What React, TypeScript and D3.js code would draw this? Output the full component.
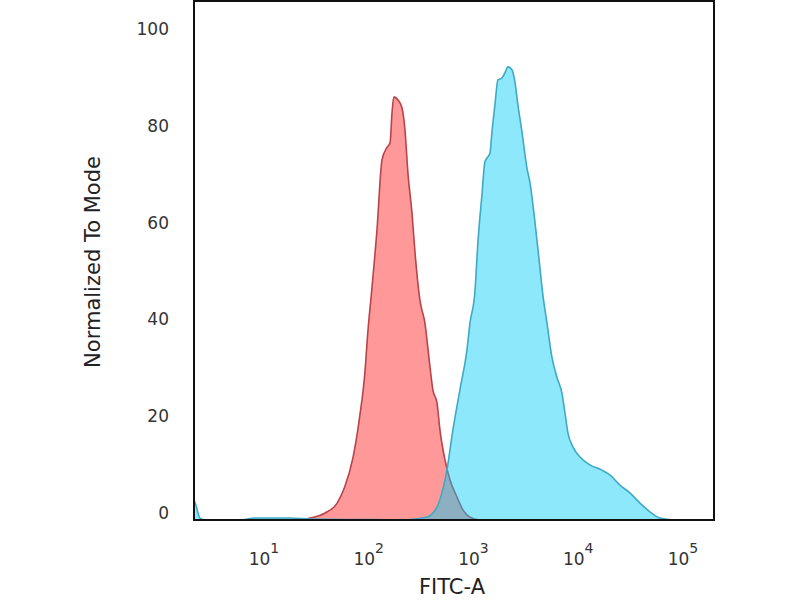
import React, { useEffect, useRef } from "react";
import * as d3 from "d3";

// isotype control (red) histogram
const isoFitc = [22, 27.5, 38, 50, 59, 71, 82, 92, 98, 107, 120, 134, 149, 160, 167, 174, 190, 207, 222, 237, 259, 277, 308, 344, 385, 410, 449, 479, 535, 597, 695, 794, 927, 1153];
const isoPct = [0, 0.4, 1.4, 3.5, 6.8, 13.0, 21.3, 30.4, 38.6, 47.5, 59.9, 74.4, 76.9, 77.9, 84.1, 87.4, 86.8, 85.3, 80.6, 71.7, 63.4, 55.2, 45.5, 40.7, 31.6, 26.9, 24.2, 18.6, 12.4, 8.3, 4.8, 2.1, 0.6, 0];

// stained sample (blue) histogram
const stainFitc = [2.15, 2.24, 2.45, 2.74, 5.9, 8.2, 17.7, 27.5, 60, 120, 199, 275, 360, 449, 558, 637, 743, 867, 927, 1033, 1104, 1205, 1288, 1439, 1503, 1603, 1714, 1871, 2000, 2133, 2333, 2489, 2661, 2904, 3243, 3459, 3864, 4315, 4603, 5035, 5610, 6266, 6998, 7482, 7980, 8913, 10400, 12940, 16870, 20090, 25060, 31190, 38900, 48420, 60260, 80350];
const stainPct = [4.1, 3.1, 0.4, 0, 0, 0.4, 0.4, 0.2, 0.1, 0.1, 0, 0.2, 0.6, 2.7, 10.3, 18.6, 26.9, 35.1, 40.7, 47.1, 57.4, 67.1, 74.0, 75.8, 80.2, 85.7, 90.9, 91.3, 92.4, 93.6, 93.0, 90.5, 85.7, 80.2, 72.7, 69.8, 61.6, 52.1, 46.5, 40.7, 33.7, 29.5, 26.2, 22.1, 18.0, 15.1, 13.0, 11.4, 10.3, 9.3, 7.2, 5.6, 3.5, 1.7, 0.4, 0];

const yTicks = [0, 20, 40, 60, 80, 100];
const xTickExps = [1, 2, 3, 4, 5];

export default function App() {
  const ref = useRef<SVGSVGElement>(null);

  useEffect(() => {
    const svg = d3.select(ref.current);
    svg.selectAll("*").remove();

    const left = 194, right = 714, top = 1, bottom = 520;

    const x = d3.scaleLog().domain([2.15, 198000]).range([left, right]);
    const y = d3.scaleLinear().domain([0, 107.2]).range([bottom, top]);

    svg.append("defs").append("clipPath").attr("id", "plotclip")
      .append("rect")
      .attr("x", left).attr("y", top)
      .attr("width", right - left).attr("height", bottom - top);

    const drawHist = (fitc: number[], pct: number[], fill: string, op: number, stroke: string) => {
      const pts: [number, number][] = fitc.map((f, i) => [x(f), y(pct[i])]);
      const a = d3.area<[number, number]>()
        .x(d => d[0]).y0(y(0)).y1(d => d[1])
        .curve(d3.curveMonotoneX);
      const l = d3.line<[number, number]>()
        .x(d => d[0]).y(d => d[1])
        .curve(d3.curveMonotoneX);
      const g = svg.append("g").attr("clip-path", "url(#plotclip)");
      g.append("path").attr("d", a(pts)).attr("fill", fill).attr("fill-opacity", op);
      g.append("path").attr("d", l(pts))
        .attr("fill", "none").attr("stroke", stroke)
        .attr("stroke-width", 1.6).attr("stroke-linejoin", "round");
    };

    drawHist(isoFitc, isoPct, "#ff0000", 0.4, "#b8434b");
    drawHist(stainFitc, stainPct, "#00ccf4", 0.45, "#3fa9c4");

    // frame
    svg.append("rect")
      .attr("x", left).attr("y", top)
      .attr("width", right - left).attr("height", bottom - top)
      .attr("fill", "none").attr("stroke", "#111").attr("stroke-width", 2);

    // y tick labels
    svg.append("g").selectAll("text").data(yTicks).join("text")
      .attr("x", 169)
      .attr("y", d => y(d) - 1)
      .attr("text-anchor", "end")
      .attr("font-family", "DejaVu Sans")
      .attr("font-size", 17)
      .attr("fill", "#333")
      .text(d => d);

    // x tick labels, 10^n
    const xl = svg.append("g").selectAll("text").data(xTickExps).join("text")
      .attr("x", d => x(Math.pow(10, d)))
      .attr("y", 565)
      .attr("text-anchor", "middle")
      .attr("font-family", "DejaVu Sans")
      .attr("font-size", 17)
      .attr("fill", "#333");
    xl.append("tspan").text("10");
    xl.append("tspan").attr("dy", -12).attr("font-size", 14).text(d => d);

    // axis titles
    svg.append("text")
      .attr("x", 452).attr("y", 594)
      .attr("text-anchor", "middle")
      .attr("font-family", "DejaVu Sans")
      .attr("font-size", 21)
      .attr("fill", "#222")
      .text("FITC-A");

    svg.append("text")
      .attr("transform", "translate(100," + 262 + ") rotate(-90)")
      .attr("text-anchor", "middle")
      .attr("font-family", "DejaVu Sans")
      .attr("font-size", 21)
      .attr("fill", "#222")
      .text("Normalized To Mode");
  }, []);

  return (
    <svg ref={ref} width={800} height={600}
      style={{ position: "absolute", left: 0, top: 0, background: "#fff" }} />
  );
}
